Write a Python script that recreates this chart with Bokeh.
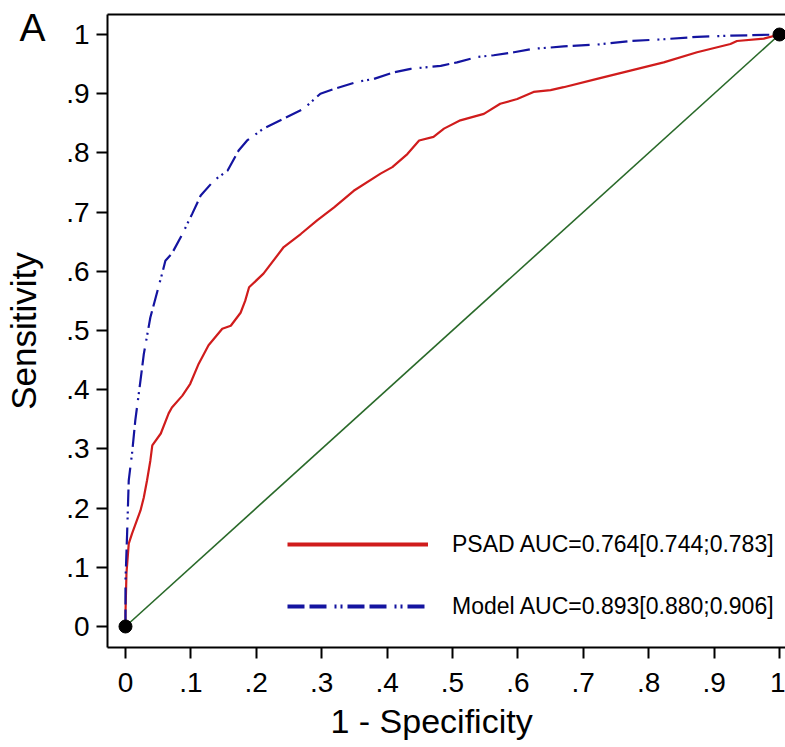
from bokeh.plotting import figure
from bokeh.models import Range1d, FixedTicker, LinearAxis, Legend, LegendItem
from bokeh.embed import file_html
from bokeh.resources import INLINE

# ---- data ----
psad_fpr = [0, 0, 0.0015, 0.005, 0.010, 0.023, 0.028, 0.033, 0.038, 0.041, 0.054, 0.066, 0.071,
            0.087, 0.099, 0.112, 0.127, 0.148, 0.161, 0.176, 0.183, 0.189, 0.211, 0.242, 0.268,
            0.293, 0.319, 0.349, 0.390, 0.408, 0.431, 0.449, 0.471, 0.487, 0.512, 0.548, 0.573,
            0.599, 0.624, 0.650, 0.670, 0.721, 0.772, 0.823, 0.874, 0.925, 0.935, 0.976, 1.0]
psad_tpr = [0, 0.022, 0.09, 0.14, 0.157, 0.196, 0.218, 0.247, 0.28, 0.306, 0.326, 0.36, 0.37,
            0.39, 0.41, 0.444, 0.475, 0.503, 0.508, 0.53, 0.55, 0.573, 0.596, 0.641, 0.663,
            0.686, 0.708, 0.736, 0.765, 0.776, 0.798, 0.821, 0.827, 0.841, 0.855, 0.866, 0.883,
            0.891, 0.903, 0.906, 0.911, 0.925, 0.939, 0.953, 0.970, 0.984, 0.989, 0.993, 1.0]

model_fpr = [0, 0, 0.0025, 0.005, 0.010, 0.015, 0.023, 0.028, 0.038, 0.046, 0.056, 0.061, 0.071,
             0.087, 0.102, 0.115, 0.135, 0.156, 0.173, 0.186, 0.211, 0.242, 0.273, 0.298, 0.319,
             0.354, 0.380, 0.410, 0.436, 0.482, 0.507, 0.538, 0.563, 0.594, 0.624, 0.650, 0.670,
             0.721, 0.772, 0.823, 0.874, 0.925, 1.0]
model_tpr = [0, 0.078, 0.157, 0.247, 0.292, 0.348, 0.416, 0.46, 0.522, 0.555, 0.596, 0.618, 0.630,
             0.663, 0.697, 0.728, 0.753, 0.770, 0.804, 0.821, 0.841, 0.858, 0.875, 0.900, 0.908,
             0.920, 0.925, 0.936, 0.942, 0.947, 0.953, 0.962, 0.965, 0.970, 0.976, 0.978, 0.980,
             0.983, 0.989, 0.992, 0.996, 0.998, 1.0]

ref_x = [0, 1]
ref_y = [0, 1]
end_x = [0, 1]
end_y = [0, 1]

tick_vals = [0, 0.1, 0.2, 0.3, 0.4, 0.5, 0.6, 0.7, 0.8, 0.9, 1]
tick_labels = ["0", ".1", ".2", ".3", ".4", ".5", ".6", ".7", ".8", ".9", "1"]

psad_label = "PSAD AUC=0.764[0.744;0.783]"
model_label = "Model AUC=0.893[0.880;0.906]"
x_title = "1 - Specificity"
y_title = "Sensitivity"
panel = "A"

RED = "#d01c1c"
BLUE = "#1414a0"
GREEN = "#2a6a2a"
FONT = "Liberation Sans"
DASH = "17 5 17 8 2 4 2 5"

p = figure(width=785, height=747, output_backend="svg", toolbar_location=None,
           x_range=Range1d(-0.0275, 1.0092), y_range=Range1d(-0.0355, 1.0338),
           min_border_left=107, min_border_right=0, min_border_top=14, min_border_bottom=100)
p.outline_line_color = None
p.grid.visible = False
p.background_fill_color = "white"
p.border_fill_color = "white"
# off-screen range used only for the thicker legend samples
p.extra_y_ranges = {"legend_only": Range1d(10, 11)}

ticks = FixedTicker(ticks=tick_vals)
overrides = {v: s for v, s in zip(tick_vals, tick_labels)}
for ax in (p.xaxis[0], p.yaxis[0]):
    ax.ticker = ticks
    ax.major_label_overrides = overrides
    ax.minor_tick_line_color = None
    ax.major_tick_in = 0
    ax.major_tick_out = 11
    ax.axis_line_width = 2
    ax.major_tick_line_width = 2
    ax.axis_line_color = "black"
    ax.major_tick_line_color = "black"
    ax.major_label_text_font = FONT
    ax.major_label_text_font_size = "28px"
    ax.major_label_text_color = "black"
p.yaxis[0].major_label_standoff = 7
p.xaxis[0].major_label_standoff = 14
p.yaxis[0].major_label_orientation = "horizontal"

# top frame line
top = LinearAxis(ticker=FixedTicker(ticks=[]), axis_line_width=2, axis_line_color="black",
                 major_tick_out=0, major_tick_in=0, minor_tick_line_color=None,
                 major_label_text_font_size="0px", major_label_standoff=0)
p.add_layout(top, "above")

# outer left axis: panel letter as a tick label, y title as axis label
outer_left = LinearAxis(ticker=FixedTicker(ticks=[1.011]), major_label_overrides={1.011: panel},
                        axis_line_color=None, major_tick_line_color=None, minor_tick_line_color=None,
                        major_tick_out=0, major_tick_in=0, major_label_standoff=18,
                        major_label_text_font=FONT, major_label_text_font_size="39px",
                        major_label_text_color="black", major_label_orientation="horizontal",
                        axis_label=y_title, axis_label_text_font=FONT,
                        axis_label_text_font_size="35px", axis_label_text_font_style="normal",
                        axis_label_text_color="black", axis_label_standoff=-27)
p.add_layout(outer_left, "left")

# outer bottom axis: x title placed as a tick label
outer_bottom = LinearAxis(ticker=FixedTicker(ticks=[0.468]), major_label_overrides={0.468: x_title},
                          axis_line_color=None, major_tick_line_color=None, minor_tick_line_color=None,
                          major_tick_out=0, major_tick_in=0, major_label_standoff=7,
                          major_label_text_font=FONT, major_label_text_font_size="34px",
                          major_label_text_color="black")
p.add_layout(outer_bottom, "below")

p.line(ref_x, ref_y, line_color=GREEN, line_width=1.6)
p.line(psad_fpr, psad_tpr, line_color=RED, line_width=2.2)
p.line(model_fpr, model_tpr, line_color=BLUE, line_width=2.2, line_dash=DASH)
p.scatter(end_x, end_y, size=13, color="black")

# legend samples: same series on an off-screen range, drawn thicker
leg_psad = p.line(psad_fpr, psad_tpr, line_color=RED, line_width=4, y_range_name="legend_only")
leg_model = p.line(model_fpr, model_tpr, line_color=BLUE, line_width=4, line_dash=DASH,
                   y_range_name="legend_only")

legend = Legend(items=[LegendItem(label=psad_label, renderers=[leg_psad]),
                       LegendItem(label=model_label, renderers=[leg_model])],
                location=(180, 25), orientation="vertical",
                glyph_width=141, glyph_height=32, label_height=32, spacing=30,
                label_standoff=24, padding=0, margin=0,
                border_line_alpha=0, background_fill_alpha=0,
                label_text_font=FONT, label_text_font_size="23px",
                label_text_color="black")
p.add_layout(legend, "center")

open("out.html", "w").write(file_html(p, INLINE))
